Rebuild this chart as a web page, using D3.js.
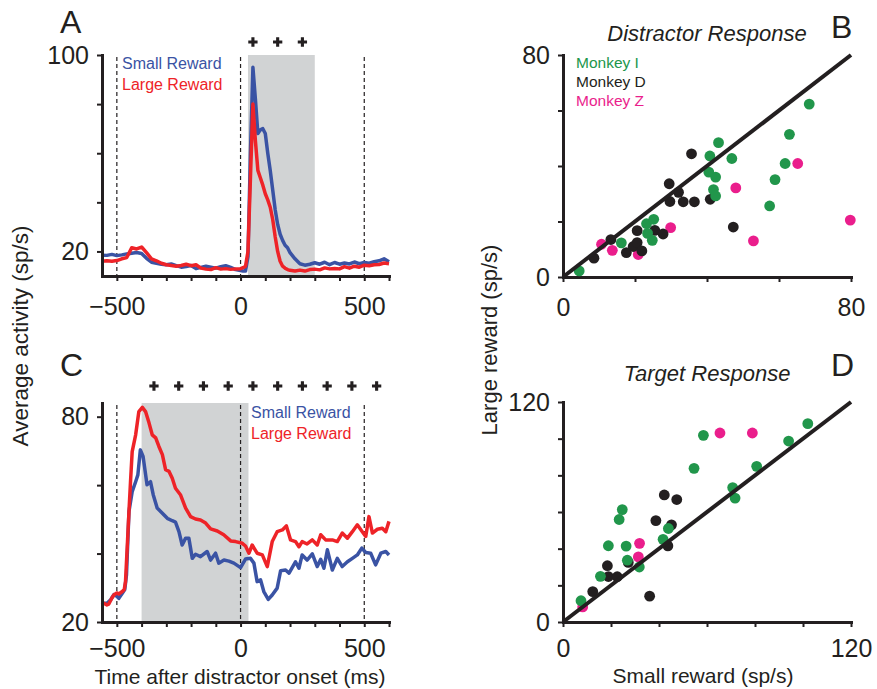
<!DOCTYPE html>
<html>
<head>
<meta charset="utf-8">
<script src="https://cdn.jsdelivr.net/npm/d3@7"></script>
<style>
  body { margin: 0; background: #fff; }
  svg { font-family: "Liberation Sans", Arial, Helvetica, sans-serif; }
  .axis path, .axis line { stroke: #231f20; }
  .axis text { fill: #231f20; }
</style>
</head>
<body>
<svg id="fig" width="877" height="689"></svg>
<script>
// ---- data ----
// panel A: distractor-aligned activity (time in ms, rate in sp/s)
var aTime = [-560,-540,-520,-500,-480,-460,-440,-420,-400,-380,-360,-340,-320,-300,-280,-260,-240,-220,-200,-180,-160,-140,-120,-100,-80,-60,-40,-20,0,
  10,20,30,40,50,60,70,80,90,100,110,120,130,140,150,160,170,180,190,200,
  220,240,260,280,300,320,340,360,380,400,420,440,460,480,500,520,540,560,580,600];
var aSmall = [18.5,18.4,18.8,18.3,18.6,19.0,19.3,19.6,19.2,17.2,15.6,15.2,14.8,14.6,14.9,14.2,13.6,13.9,14.3,13.0,13.5,14.0,13.6,13.2,13.8,14.2,13.5,12.6,12.2,
  12.0,12.0,18,60,95,82,68,69.5,70,68,60,53,45,37,31,27,24.5,22.5,21.5,19.5,
  17,15,14.4,14.8,15.4,14.8,15.6,14.6,15.5,14.8,15.3,14.9,15.7,15.0,15.5,15.2,15.8,16.2,17.0,15.8];
var aLarge = [16.0,16.2,16.0,16.3,17.0,17.5,21.5,21.0,21.8,19.5,17.0,16.2,15.2,14.6,14.3,14.0,14.3,14.8,14.2,14.6,13.2,12.8,12.6,13.4,12.8,13.0,12.7,12.9,13.0,
  13.4,14,20,50,80,65,53,50,47,43.5,41,38,33,26,20,16,14,13.2,12.6,12.3,
  12.0,12.4,12.0,12.6,12.8,12.5,13.3,12.9,13.1,12.9,13.8,13.2,14.0,13.6,14.4,14.2,14.6,14.7,15.3,15.0];
var aSignif = [50, 150, 250];

// panel C: target-aligned activity, [time, rate]
var cSmall = [[-560,25.3],[-553,25.5],[-540,25.5],[-525,26.5],[-512,28],[-500,27.5],[-492,26.9],[-478,28.4],[-468,29.5],[-461,33.8],[-451,52.3],[-438,58.1],[-424,61],[-415,63],[-405,70.3],[-394,68.4],[-378,60.1],[-364,61],[-353,57.2],[-337,53.3],[-316,51.8],[-296,50.3],[-276,49.6],[-263,49.2],[-249,46.4],[-236,42.5],[-222,44.5],[-209,44.5],[-195,38.6],[-182,39.8],[-162,39.1],[-135,40.6],[-121,38.1],[-101,40.1],[-88,37.2],[-67,38.1],[-47,37.8],[-27,37.2],[0,35.9],[20,38.4],[40,38.6],[54,37.2],[67,31.8],[81,32.3],[94,28.9],[112,26.6],[128,27.9],[148,29.9],[162,35],[182,35.2],[196,34.3],[222,37.6],[236,35.7],[249,39.6],[269,38.1],[290,39.9],[310,36.2],[324,38.3],[337,35.7],[351,41.1],[371,35.2],[391,38.6],[411,36.2],[432,37.6],[452,38.6],[472,39.6],[490,41.6],[506,40.3],[526,40.1],[546,36.7],[567,40.1],[587,40.6],[600,39.6]];
var cLarge = [[-560,25.0],[-553,25.5],[-540,25.0],[-533,25.2],[-520,27.0],[-512,27.9],[-500,28.5],[-492,28.2],[-478,28.9],[-470,29.5],[-465,31.8],[-458,42],[-451,52.3],[-444,62],[-438,69.8],[-424,74.7],[-411,81.5],[-397,82.7],[-384,81.5],[-370,78.2],[-357,74.7],[-343,73.8],[-330,71.3],[-316,68.9],[-303,64.5],[-289,64],[-276,62],[-263,59.1],[-243,57.2],[-222,53.3],[-202,50.8],[-182,50.1],[-162,49.8],[-141,48.9],[-121,47.2],[-94,46.6],[-68,45.5],[-40,43.7],[-20,43.5],[7,43],[20,42.2],[34,40.1],[47,42.5],[67,40.1],[88,39.6],[108,36.2],[128,43.5],[148,46.4],[169,46.9],[185,48.1],[202,44],[222,43.5],[236,42],[249,43.5],[269,42.8],[290,44],[310,42.5],[324,45.5],[344,44],[371,44],[391,43.5],[411,46],[432,44.5],[452,46.4],[472,48.4],[492,46.4],[506,45],[519,50.8],[533,46],[553,47.1],[573,47.4],[587,46.4],[600,49.4]];
var cSignif = [-350,-250,-150,-50,50,150,250,350,450,550];

// panel B: distractor response per neuron, [small, large]
var distI = [[4.5,2.2],[16.2,12.3],[23.2,19.2],[25.2,20.8],[23.5,15.7],[24.8,13.2],[40.8,43.6],[43.2,48.4],[46.9,42.7],[40.5,37.8],[42.4,36],[41.8,31.5],[42.4,29.2],[68.4,62.3],[62.9,51.4],[61.7,40.9],[58.9,35.1],[57.4,25.6]];
var distD = [[8.6,6.8],[13.3,13.5],[17.6,8.8],[19.5,11],[20.6,12.4],[20.6,16.7],[21.9,9.4],[25.5,16.8],[27.8,15.5],[29.5,33.6],[32.1,30.5],[29.7,27.2],[33.4,27.1],[36.5,27.1],[35.7,44.4],[40.9,28],[47.3,18]];
var distZ = [[10.7,11.8],[13.7,9.6],[20.9,8.1],[29.9,17.8],[48,32.1],[52.9,13],[65.2,40.9],[79.8,20.5]];

// panel D: target response per neuron, [small, large]
var targI = [[7.5,11.6],[15.6,24.9],[18.9,41.6],[23.4,55.9],[24.7,61.3],[26.3,41.4],[26.8,33.7],[31.8,30],[41.7,45.1],[43.9,51],[54.6,83.8],[58.5,101.8],[70.7,73.3],[71.7,67.6],[80.7,84.9],[94,98.7],[102,108.2]];
var targD = [[12.4,16.6],[18.5,30.7],[18.9,24.8],[22.6,24.7],[27.2,32.5],[36.1,14.1],[38.7,55.3],[42.2,69.3],[47.4,66.8],[45.2,53],[43.7,41.5]];
var targZ = [[8.2,8.2],[31.9,42.9],[31.4,35.5],[65.4,103.1],[78.9,103.1]];

var BLUE = "#3a53a4", RED = "#ee2328", GREY = "#d1d3d4", INK = "#231f20";
var GREEN = "#21964b", PINK = "#ea1e8c";

var svg = d3.select("#fig");

function styleAxis(g) {
	g.attr("class", "axis");
	g.select(".domain").attr("stroke-width", 3).attr("stroke-linecap", "square");
	g.selectAll(".tick line").attr("stroke-width", 2);
	g.selectAll(".tick text").attr("font-size", 25);
}

function labelOnly(show) {
	return function(d) { return show.indexOf(d) >= 0 ? d3.format("d")(d) : ""; };
}

// ---- time course panels ----
function timePanel(p) {
	var x = d3.scaleLinear().domain([-560, 600]).range([102, 389]);
	var y = d3.scaleLinear().domain(p.yDomain).range(p.yRange);
	var g = svg.append("g");

	g.append("rect")
		.attr("x", x(p.shade[0])).attr("y", p.yRange[1])
		.attr("width", x(p.shade[1]) - x(p.shade[0]))
		.attr("height", p.yRange[0] - p.yRange[1])
		.attr("fill", GREY);

	[-500, 0, 500].forEach(function(t) {
		g.append("line")
			.attr("x1", x(t)).attr("x2", x(t))
			.attr("y1", p.yRange[1] + 2).attr("y2", p.yRange[0])
			.attr("stroke", INK).attr("stroke-width", 1.2)
			.attr("stroke-dasharray", "4,3");
	});

	var line = d3.line().x(function(d) { return x(d[0]); }).y(function(d) { return y(d[1]); });
	g.append("path").datum(p.small).attr("d", line)
		.attr("fill", "none").attr("stroke", BLUE).attr("stroke-width", 3.5).attr("stroke-linejoin", "round");
	g.append("path").datum(p.large).attr("d", line)
		.attr("fill", "none").attr("stroke", RED).attr("stroke-width", 3.5).attr("stroke-linejoin", "round");

	g.append("g").attr("transform", "translate(0," + p.yRange[0] + ")")
		.call(d3.axisBottom(x).tickValues(d3.range(-500, 601, 100)).tickFormat(labelOnly([-500, 0, 500]))
			.tickSize(5).tickSizeOuter(0).tickPadding(p.xPad))
		.call(styleAxis);
	g.append("g").attr("transform", "translate(102,0)")
		.call(d3.axisLeft(y).tickValues(p.yTicks).tickFormat(labelOnly(p.yLabels))
			.tickSize(5).tickSizeOuter(0).tickPadding(8))
		.call(styleAxis);

	g.selectAll(".plus").data(p.signif).enter().append("path")
		.attr("transform", function(d) { return "translate(" + x(d) + "," + p.plusY + ")"; })
		.attr("d", d3.symbol(d3.symbolCross, 48))
		.attr("fill", INK);

	g.append("text").attr("x", p.legX).attr("y", p.legY).attr("font-size", 16).attr("fill", BLUE).text("Small Reward");
	g.append("text").attr("x", p.legX).attr("y", p.legY + 21).attr("font-size", 16).attr("fill", RED).text("Large Reward");
	g.append("text").attr("x", 60).attr("y", p.letterY).attr("font-size", 32).attr("fill", INK).text(p.letter);
}

timePanel({
	letter: "A", letterY: 33,
	small: aTime.map(function(t, i) { return [t, aSmall[i]]; }),
	large: aTime.map(function(t, i) { return [t, aLarge[i]]; }),
	yDomain: [10, 100], yRange: [276, 55],
	yTicks: [20, 40, 60, 80, 100], yLabels: [20, 100],
	shade: [30, 300], signif: aSignif, plusY: 42,
	legX: 122, legY: 69, xPad: 16
});
timePanel({
	letter: "C", letterY: 376,
	small: cSmall, large: cLarge,
	yDomain: [20, 84], yRange: [622, 403],
	yTicks: [20, 40, 60, 80], yLabels: [20, 80],
	shade: [-400, 32], signif: cSignif, plusY: 386,
	legX: 251, legY: 418, xPad: 12
});

svg.append("text").attr("x", 240).attr("y", 684).attr("text-anchor", "middle")
	.attr("font-size", 21).attr("fill", INK).text("Time after distractor onset (ms)");
svg.append("text").attr("transform", "translate(28,336) rotate(-90)").attr("text-anchor", "middle")
	.attr("font-size", 22.5).attr("fill", INK).text("Average activity (sp/s)");

// ---- scatter panels ----
function scatterPanel(p) {
	var x = d3.scaleLinear().domain([0, p.max]).range([563, 851]);
	var y = d3.scaleLinear().domain([0, p.max]).range(p.yRange);
	var g = svg.append("g");

	g.append("g").attr("transform", "translate(0," + p.yRange[0] + ")")
		.call(d3.axisBottom(x).ticks(p.max / 20).tickFormat(labelOnly([0, p.max]))
			.tickSize(5).tickSizeOuter(0).tickPadding(p.xPad))
		.call(styleAxis);
	g.append("g").attr("transform", "translate(563,0)")
		.call(d3.axisLeft(y).ticks(p.max / 20).tickFormat(labelOnly([0, p.max]))
			.tickSize(5).tickSizeOuter(0).tickPadding(8))
		.call(styleAxis);

	var groups = [[p.z, PINK], [p.d, INK], [p.i, GREEN]];
	groups.forEach(function(grp) {
		g.append("g").selectAll("circle").data(grp[0]).enter().append("circle")
			.attr("cx", function(d) { return x(d[0]); })
			.attr("cy", function(d) { return y(d[1]); })
			.attr("r", 5.4)
			.attr("fill", grp[1]);
	});

	g.append("line")
		.attr("x1", x(0)).attr("y1", y(0)).attr("x2", x(p.max)).attr("y2", y(p.max))
		.attr("stroke", INK).attr("stroke-width", 4);

	g.append("text").attr("x", 707).attr("y", p.titleY).attr("text-anchor", "middle")
		.attr("font-size", 22).attr("font-style", "italic").attr("fill", INK).text(p.title);
	g.append("text").attr("x", 831).attr("y", p.letterY).attr("font-size", 32).attr("fill", INK).text(p.letter);
}

scatterPanel({ letter: "B", letterY: 38, title: "Distractor Response", titleY: 41,
	max: 80, yRange: [277, 55], i: distI, d: distD, z: distZ, xPad: 16 });
scatterPanel({ letter: "D", letterY: 376, title: "Target Response", titleY: 381,
	max: 120, yRange: [622, 402], i: targI, d: targD, z: targZ, xPad: 12 });

var leg = [["Monkey I", GREEN], ["Monkey D", INK], ["Monkey Z", PINK]];
svg.append("g").selectAll("text").data(leg).enter().append("text")
	.attr("x", 576).attr("y", function(d, i) { return 68 + i * 19; })
	.attr("font-size", 15.5).attr("fill", function(d) { return d[1]; })
	.text(function(d) { return d[0]; });

svg.append("text").attr("x", 703).attr("y", 683).attr("text-anchor", "middle")
	.attr("font-size", 21).attr("fill", INK).text("Small reward (sp/s)");
svg.append("text").attr("transform", "translate(497,340) rotate(-90)").attr("text-anchor", "middle")
	.attr("font-size", 22).attr("fill", INK).text("Large reward (sp/s)");
</script>
</body>
</html>
